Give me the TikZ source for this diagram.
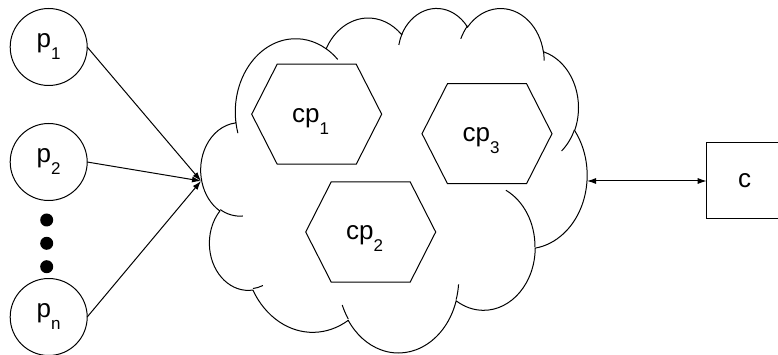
\documentclass[tikz,border=0pt]{standalone}
\usepackage{fontspec}
\setmainfont{Liberation Sans}
\usepackage{tikz}
\usetikzlibrary{arrows.meta, shapes.symbols}
\newcommand{\lowidx}[1]{\raisebox{-12pt}{\fontsize{17}{17}\selectfont #1}}

\begin{document}
\begin{tikzpicture}[x=1pt, y=-1pt, line width=1pt,
    every node/.style={font=\fontsize{26}{30}\selectfont, inner sep=0pt, outer sep=0pt},
    proc/.style={circle, draw, minimum size=77},
    dotnode/.style={circle, fill, minimum size=13},
    hexa/.style={signal, signal to=east and west, signal pointer angle=126, draw, minimum width=130, minimum height=100},
    hexlabel/.style={xshift=-6pt, yshift=-7pt},
    link/.style={-{Latex[length=9pt,width=6pt]}}]
    \useasboundingbox (0,0) rectangle (778,355);

    \node[proc] (p1) at (48.7,47) {p\lowidx{1}};
    \node[proc] (p2) at (48.7,162) {p\lowidx{2}};
    \node[proc] (pn) at (48.7,317) {p\lowidx{n}};
    \node[dotnode] (d1) at (46.7,220) {};
    \node[dotnode] (d2) at (46.7,243.3) {};
    \node[dotnode] (d3) at (46.7,266.7) {};

    % Cloud
    \node[minimum width=386, minimum height=344] (cloud) at (394,181) {};
    \begin{scope}[shift={(201,7.3)}, x=0.8935pt, y=-0.7972pt]
      \draw (39.00,143.70)
        arc[start angle=-187.75, end angle=-59.63, x radius=67.53, y radius=91.90]
        arc[start angle=-152.02, end angle=-45.43, x radius=53.33, y radius=72.67]
        arc[start angle=-153.48, end angle=-37.33, x radius=43.65, y radius=59.45]
        arc[start angle=-139.70, end angle=-10.21, x radius=48.57, y radius=65.95]
        arc[start angle=-74.77, end angle=23.21, x radius=53.33, y radius=72.73]
        arc[start angle=-37.53, end angle=81.86, x radius=67.75, y radius=92.20]
        arc[start angle=0.46, end angle=121.98, x radius=57.85, y radius=78.67]
        arc[start angle=16.84, end angle=146.25, x radius=67.52, y radius=92.15]
        arc[start angle=58.98, end angle=150.20, x radius=77.20, y radius=105.43]
        arc[start angle=-276.69, end angle=-136.89, x radius=43.60, y radius=59.18]
        arc[start angle=-239.64, end angle=-95.89, x radius=43.45, y radius=59.45]
        -- cycle;
      \draw (46.93,261.77) arc[start angle=85.55, end angle=120.36, x radius=43.45, y radius=59.45]
        (69.28,348.99) arc[start angle=68.24, end angle=83.31, x radius=43.60, y radius=59.18]
        (164.78,390.90) arc[start angle=146.25, end angle=158.47, x radius=67.52, y radius=92.15]
        (288.27,347.51) arc[start angle=4.74, end angle=16.84, x radius=67.52, y radius=92.15]
        (341.29,229.54) arc[start angle=-64.03, end angle=0.46, x radius=57.85, y radius=78.67]
        (417.98,153.54) arc[start angle=23.21, end angle=49.62, x radius=53.33, y radius=72.73]
        (383.24,54.26) arc[start angle=-10.21, end angle=0.82, x radius=48.57, y radius=65.95]
        (290.78,39.52) arc[start angle=-156.29, end angle=-139.70, x radius=48.57, y radius=65.95]
        (221.41,47.20) arc[start angle=-167.73, end angle=-153.48, x radius=43.65, y radius=59.45]
        (140.00,51.92) arc[start angle=-59.63, end angle=-45.74, x radius=67.53, y radius=91.90]
        (41.27,157.89) arc[start angle=163.19, end angle=172.25, x radius=67.53, y radius=91.90];
    \end{scope}

    \node[hexa, label={[hexlabel]center:cp\lowidx{1}}] (cp1) at (316.7,114.2) {};
    \node[hexa, label={[hexlabel]center:cp\lowidx{3}}] (cp3) at (487,133.7) {};
    \node[hexa, label={[hexlabel]center:cp\lowidx{2}}] (cp2) at (370.7,232) {};

    \node[draw, minimum width=76, minimum height=76, anchor=west] (c) at (706.7,181) {c};

    \draw[link] (p1.east) -- (cloud.west);
    \draw[link] (p2.east) -- (cloud.west);
    \draw[link] (pn.east) -- (cloud.west);
    \draw[{Latex[length=9pt,width=6pt]}-{Latex[length=9pt,width=6pt]}] (cloud.east) -- (c.west);
\end{tikzpicture}
\end{document}
